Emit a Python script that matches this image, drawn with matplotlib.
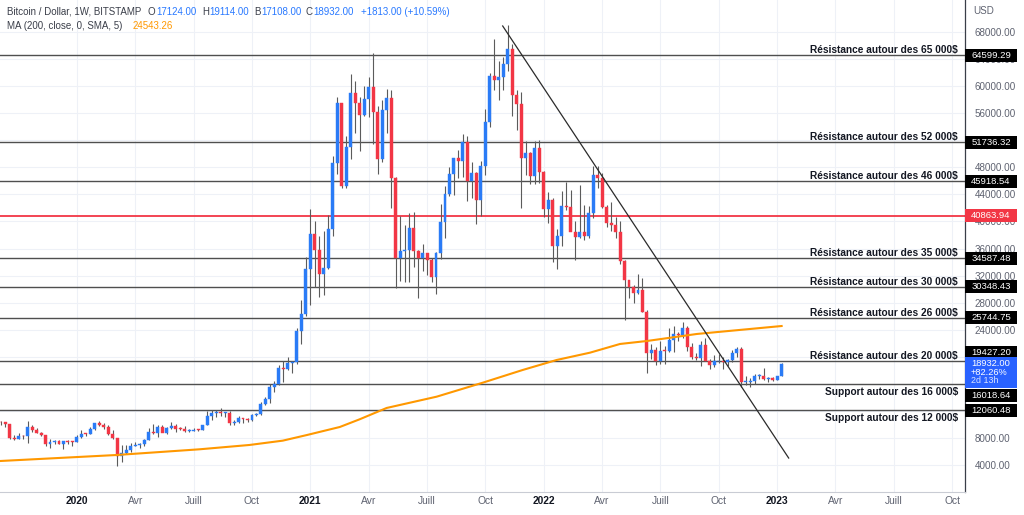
import numpy as np
import pandas as pd
import matplotlib
matplotlib.use("Agg")
import matplotlib.pyplot as plt
import matplotlib.dates as mdates
from matplotlib.patches import Rectangle
from matplotlib.transforms import blended_transform_factory, IdentityTransform

plt.rcParams['font.family'] = ['Liberation Sans', 'DejaVu Sans']

# ── data: weekly BTC/USD candles (Bitstamp), first bar 2019-09-09 ─────────────
first_week = "2019-09-09"
opens = [10400, 10300, 10000, 8050, 7860, 8300, 8220, 9550, 9200, 8800, 8500, 7100, 7400, 7500, 7100, 7500, 7400,
         7350, 8180, 8650, 8600, 9350, 10150, 9920, 9670, 8530, 7950, 5360, 5820, 6240, 6870, 6900, 7130, 7700,
         8900, 8720, 9680, 8720, 9450, 9750, 9340, 9300, 9000, 9070, 9230, 9160, 9930, 11200, 11650, 11900, 11660,
         11680, 10250, 10330, 10930, 10780, 10660, 11370, 11500, 13030, 13760, 15480, 15960, 18380, 18180, 19150,
         19270, 23800, 26270,
         32950, 38150, 35800, 32270, 33100, 38900, 48600, 57500, 45200, 50950, 59000, 57500, 55800, 58100, 59850,
         56200, 49200, 56500, 58250, 46450, 34650, 35700, 35800, 39050, 35600, 34650, 35300, 34300, 31750, 35400,
         39900, 44000, 47000, 49350, 48900, 51800, 46050, 47200, 43100, 48200, 54700, 61500, 60900, 61300, 63300,
         65500, 58700, 57300, 49400, 50100, 46700, 50800,
         47300, 41900, 43100, 36300, 37900, 42300, 42100, 38400, 37700, 38400, 37800, 41300, 46800, 46400, 42200,
         39700, 39500, 38500, 34100, 31300, 30300, 29450, 29900, 26600, 20550, 21050, 19300, 20850, 20800, 22500,
         23300, 23150, 24300, 21500, 20000, 19800, 21800, 19400, 18800, 19300, 19400, 19200, 19550, 20600, 21150,
         16300, 16300, 16450, 17100, 17100, 16750, 16850, 16550,
         17124]
highs = [10450, 10360, 10050, 8500, 8800, 8400, 10500, 9900, 9500, 8900, 8500, 7850, 7750, 7650, 7500, 7700, 7600,
         8450, 9190, 8780, 9600, 10160, 10500, 10250, 9960, 9190, 7990, 6900, 6980, 7220, 7460, 7300, 7780, 9460,
         10050, 9900, 9900, 9600, 10420, 9990, 9600, 9800, 9350, 9450, 9270, 9960, 12000, 12100, 12080, 12470, 11800,
         12050, 10700, 11170, 10980, 10950, 11500, 11720, 13350, 14060, 15950, 16480, 18800, 19400, 19900, 19420,
         24200, 28350, 34800,
         41900, 40100, 37850, 38550, 40950, 49700, 58350, 57550, 52600, 61780, 60800, 58400, 60000, 61300, 64900,
         57000, 58000, 59600, 59500, 46600, 40800, 39500, 41300, 41400, 35800, 36600, 35400, 34600, 35500, 42600,
         45300, 48100, 49400, 50500, 52900, 52700, 48800, 47300, 49000, 56600, 62000, 67000, 63700, 64250, 69000,
         66300, 59400, 59100, 51900, 50200, 51900, 52100,
         47500, 44400, 43500, 38900, 44500, 45800, 44700, 40000, 45400, 42500, 42300, 48200, 48200, 47200, 42400,
         42900, 40700, 40000, 34300, 31400, 30600, 32300, 31700, 26900, 21900, 21500, 22400, 21600, 24200, 24600,
         23600, 25200, 24500, 22000, 20600, 22400, 22800, 19700, 20200, 20450, 19900, 19700, 21000, 21500, 21400,
         17200, 16800, 17400, 17400, 18400, 17000, 16950, 17200,
         19114]
lows = [9900, 9600, 7800, 7750, 7800, 7900, 7300, 8950, 8700, 8350, 6800, 6500, 7150, 7050, 6430, 7100, 6850,
        7330, 8050, 8250, 8550, 9150, 9700, 9300, 8450, 7900, 3850, 4450, 5680, 5860, 6760, 6500, 6800, 7660,
        8600, 8210, 8820, 8650, 9300, 8950, 9200, 8950, 8950, 9060, 9020, 9150, 9930, 10650, 11100, 11300, 11140,
        9880, 9900, 10200, 10170, 10400, 10540, 11250, 11400, 12900, 13220, 14800, 15800, 16200, 18100, 17580,
        19000, 21900, 26000,
        27700, 30300, 28800, 29200, 33000, 37900, 47000, 44900, 44900, 49280, 53100, 50400, 55600, 55400, 51500,
        47000, 48800, 53000, 42000, 30100, 31200, 31100, 31100, 33300, 28700, 32700, 32100, 31000, 29300, 34500,
        37500, 43800, 43900, 46400, 46500, 43000, 43400, 39600, 40800, 46900, 53900, 59500, 58000, 59400, 62300,
        55600, 53500, 42000, 46800, 45500, 45600, 45700,
        40600, 39700, 34000, 32900, 36300, 41700, 39600, 34300, 37500, 37200, 37600, 40500, 44900, 42000, 39200,
        38600, 37600, 33700, 25400, 28700, 28000, 29300, 26550, 17600, 19700, 18800, 19000, 18900, 20750, 20700,
        22400, 22700, 20800, 19600, 19500, 18600, 19300, 18200, 18500, 19100, 18200, 18700, 19200, 20000, 15600,
        15800, 15500, 16000, 16700, 16500, 16300, 16350, 16500,
        17108]
closes = [10300, 10000, 8050, 7860, 8300, 8220, 9550, 9200, 8800, 8500, 7100, 7400, 7500, 7100, 7500, 7400, 7350,
          8180, 8650, 8600, 9350, 10150, 9920, 9670, 8530, 7950, 5360, 5820, 6240, 6870, 6900, 7130, 7700, 8900,
          8720, 9680, 8720, 9450, 9750, 9340, 9300, 9000, 9070, 9230, 9160, 9930, 11200, 11650, 11900, 11660, 11680,
          10250, 10330, 10930, 10780, 10660, 11370, 11500, 13030, 13760, 15480, 15960, 18380, 18180, 19150, 19270,
          23800, 26270, 32950,
          38150, 35800, 32270, 33100, 38900, 48600, 57500, 45200, 50950, 59000, 57500, 55800, 58100, 59850, 56200,
          49200, 56500, 58250, 46450, 34650, 35700, 35800, 39050, 35600, 34650, 35300, 34300, 31750, 35400, 39900,
          44000, 47000, 49350, 48900, 51800, 46050, 47200, 43100, 48200, 54700, 61500, 60900, 61300, 63300, 65500,
          58700, 57300, 49400, 50100, 46700, 50800, 47300,
          41900, 43100, 36300, 37900, 42300, 42100, 38400, 37700, 38400, 37800, 41300, 46800, 46400, 42200, 39700,
          39500, 38500, 34100, 31300, 30300, 29450, 29900, 26600, 20550, 21050, 19300, 20850, 20800, 22500, 23300,
          23150, 24300, 21500, 20000, 19800, 21800, 19400, 18800, 19300, 19400, 19200, 19550, 20600, 21150, 16300,
          16300, 16450, 17100, 17100, 16750, 16850, 16550, 17124,
          18932]

# MA(200)
ma_dates = ["2019-09-08", "2020-03-08", "2020-07-15", "2020-10-01", "2020-11-22", "2020-12-30", "2021-02-19",
            "2021-03-22", "2021-05-03", "2021-07-20", "2021-09-30", "2021-12-01", "2022-01-23", "2022-03-16",
            "2022-05-02", "2022-06-13", "2022-08-30", "2023-01-09"]
ma_values = [4590, 5480, 6320, 6960, 7600, 8440, 9620, 10760, 12430, 14100, 16170, 18040, 19520, 20600, 21890,
             22330, 23370, 24543]

# downtrend line (two anchor points)
trend_dates = ["2021-10-31", "2023-01-20"]
trend_prices = [68890, 5030]

# horizontal levels
level_prices = [64599.29, 51736.32, 45918.54, 34587.48, 30348.43, 25744.75, 19427.20, 16018.64, 12060.48]
level_texts = ["Résistance autour des 65 000$", "Résistance autour des 52 000$", "Résistance autour des 46 000$",
               "Résistance autour des 35 000$", "Résistance autour des 30 000$", "Résistance autour des 26 000$",
               "Résistance autour des 20 000$", "Support autour des 16 000$", "Support autour des 12 000$"]
red_level = 40863.94
last_price = 18932.00
last_lines = ["18932.00", "+82.26%", "2d 13h"]

# price scale labels that stay visible (the others sit under the price boxes)
ytick_vals = [4000, 8000, 24000, 28000, 32000, 36000, 40000, 44000, 48000, 56000, 60000, 64000, 68000]

tick_dates = ["2020-01-06", "2020-04-06", "2020-07-06", "2020-10-05", "2021-01-04", "2021-04-05", "2021-07-05",
              "2021-10-04", "2022-01-03", "2022-04-04", "2022-07-04", "2022-10-03", "2023-01-02", "2023-04-03",
              "2023-07-03", "2023-10-02"]
tick_labels = ["2020", "Avr", "Juill", "Oct", "2021", "Avr", "Juill", "Oct", "2022", "Avr", "Juill", "Oct",
               "2023", "Avr", "Juill", "Oct"]

# ── colours ──────────────────────────────────────────────────────────────────
UP, DOWN = '#2a7bf6', '#f23645'
WICK = '#5b5b5b'
TXT, GREY = '#131722', '#5e6270'

W, H = 1024, 515
fig = plt.figure(figsize=(W / 100, H / 100), dpi=100)
ax = fig.add_axes([0, 23 / H, 965 / W, 492 / H])

x = mdates.date2num(pd.date_range(first_week, periods=len(closes), freq='7D'))
o, h, l, c = map(np.array, (opens, highs, lows, closes))
up = c >= o
cols = np.where(up, UP, DOWN)

ax.vlines(x, l, h, color=WICK, lw=0.8, zorder=3)
body_lo = np.minimum(o, c)
body_h = np.maximum(np.abs(c - o), 130)
ax.bar(x, body_h, bottom=body_lo, width=4.6, color=cols, edgecolor=cols, lw=0.3, zorder=4)

# MA
ax.plot(mdates.date2num(pd.to_datetime(ma_dates)), ma_values, color='#ff9800', lw=1.5, zorder=5)
# trend line
ax.plot(mdates.date2num(pd.to_datetime(trend_dates)), trend_prices, color='#2b2b2b', lw=0.9, zorder=6)

# levels
bt = blended_transform_factory(ax.transAxes, ax.transData)
for p, t in zip(level_prices, level_texts):
    ax.axhline(p, color='#4f4f4f', lw=1.0, zorder=2)
    if t.startswith("Support"):
        ax.annotate(t, xy=(958 / 965, p), xycoords=bt, xytext=(0, -3), textcoords='offset pixels',
                    ha='right', va='top', fontsize=7.3, fontweight='bold', color=TXT, zorder=7)
    else:
        ax.annotate(t, xy=(958 / 965, p), xycoords=bt, xytext=(0, 2), textcoords='offset pixels',
                    ha='right', va='baseline', fontsize=7.3, fontweight='bold', color=TXT, zorder=7)
ax.axhline(red_level, color='#f23645', lw=1.3, zorder=2)

# axes limits / grid
ax.set_xlim(mdates.date2num(pd.Timestamp("2019-09-08")), mdates.date2num(pd.Timestamp("2023-10-22")))
ax.set_ylim(10, 72730)
ax.set_xticks(mdates.date2num(pd.to_datetime(tick_dates)))
ax.set_xticklabels(tick_labels)
for lab in ax.get_xticklabels():
    if lab.get_text().isdigit():
        lab.set_fontweight('bold')
        lab.set_color(TXT)
    else:
        lab.set_color(GREY)
ax.tick_params(axis='x', length=0, pad=3, labelsize=7.4)

ax.yaxis.tick_right()
ax.set_yticks(np.arange(4000, 68001, 4000), minor=True)
ax.set_yticks(ytick_vals)
ax.set_yticklabels([f"{v:.2f}" for v in ytick_vals])
ax.tick_params(axis='y', which='both', length=0, pad=7, labelsize=7.1, labelcolor=GREY)
ax.grid(True, which='both', color='#eef1f7', lw=0.8, zorder=0)
ax.set_axisbelow(True)
for s in ('top', 'left'):
    ax.spines[s].set_visible(False)
ax.spines['right'].set_color('#3a3e48')
ax.spines['right'].set_linewidth(0.9)
ax.spines['bottom'].set_color('#c9ccd4')
ax.spines['bottom'].set_linewidth(0.8)

# price boxes on the right scale (pixel boxes, like the TradingView scale)
box_offsets = {19427.20: 8, 16018.64: -12}
px_id = IdentityTransform()
for p in level_prices + [red_level]:
    fc = '#f23645' if p == red_level else 'black'
    yd = ax.transData.transform((0, p))[1] + box_offsets.get(p, 0)
    fig.add_artist(Rectangle((965, yd - 6.5), 52, 13, transform=px_id, fc=fc, ec='none', zorder=10))
    fig.text(991 / W, yd / H, f"{p:.2f}", fontsize=6.8, color='white', ha='center', va='center', zorder=11)

yd = ax.transData.transform((0, last_price))[1]
fig.add_artist(Rectangle((965, yd - 24), 52, 31, transform=px_id, fc='#2962ff', ec='none', zorder=10))
for k, (txt, dy) in enumerate(zip(last_lines, [0, -9, -17])):
    fig.text(971 / W, (yd + dy) / H, txt, fontsize=6.7 if k < 2 else 6.4,
             color='white' if k < 2 else '#dbe4ff', ha='left', va='center', zorder=11)

fig.text(973 / W, 1 - 11 / H, "USD", fontsize=7.1, color=GREY, va='center', ha='left')

# header: each price follows right after its letter
BLUE_T = '#2979ff'
DARK = '#3b3f4a'
hdr1 = [("Bitcoin / Dollar, 1W, BITSTAMP", "", 7), ("O", "17124.00", 148), ("H", "19114.00", 202),
        ("B", "17108.00", 254), ("C", "18932.00", 306), ("", "+1813.00 (+10.59%)", 361)]
fig.canvas.draw()
rend = fig.canvas.get_renderer()
for lab, val, px in hdr1:
    xr = px
    if lab:
        t = fig.text(px / W, 1 - 12 / H, lab, fontsize=7.0, color=DARK, va='center', ha='left')
        xr = t.get_window_extent(rend).x1 + 0.5
    if val:
        fig.text(xr / W, 1 - 12 / H, val, fontsize=7.0, color=BLUE_T, va='center', ha='left')
fig.text(7 / W, 1 - 26 / H, "MA (200, close, 0, SMA, 5)", fontsize=7.0, color=DARK, va='center', ha='left')
fig.text(133 / W, 1 - 26 / H, "24543.26", fontsize=7.0, color='#ff9800', va='center', ha='left')

fig.savefig("out.png", dpi=100, facecolor='white')
